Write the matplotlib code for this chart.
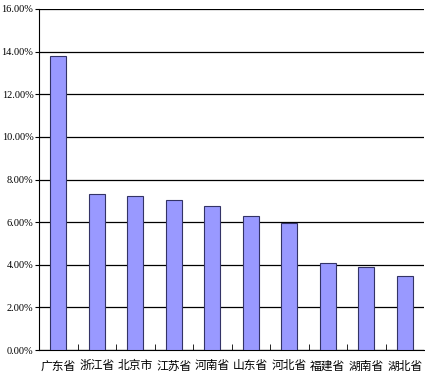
import matplotlib
matplotlib.use("Agg")
import matplotlib.pyplot as plt
from matplotlib.ticker import FuncFormatter, FixedLocator
import numpy as np

plt.rcParams['font.family'] = ['Noto Sans CJK SC', 'DejaVu Sans']

provinces = ['广东省', '浙江省', '北京市', '江苏省', '河南省',
             '山东省', '河北省', '福建省', '湖南省', '湖北省']
shares = [13.8, 7.32, 7.23, 7.03, 6.77, 6.28, 5.94, 4.09, 3.88, 3.49]

fig = plt.figure(figsize=(4.25, 3.75), dpi=100)
ax = fig.add_axes([39 / 425, 25 / 375, 385 / 425, 341 / 375])

x = np.arange(len(provinces))
ax.bar(x, shares, width=0.42, color='#9999ff', edgecolor='#333366',
       linewidth=0.8, zorder=3)

ax.set_xlim(-0.5, len(provinces) - 0.5)
ax.set_ylim(0, 16)
ax.set_yticks(np.arange(0, 17, 2))
ax.yaxis.set_major_formatter(FuncFormatter(lambda v, p: '%.2f%%' % v))
ax.grid(axis='y', color='black', linewidth=0.9, zorder=0)

ax.set_xticks(x)
ax.set_xticklabels(provinces, fontsize=8.5, va='baseline')
ax.tick_params(axis='x', length=0, pad=14)
ax.xaxis.set_minor_locator(FixedLocator(np.arange(0.5, len(provinces) - 0.5, 1)))
ax.tick_params(axis='x', which='minor', direction='in', length=4, color='black')
ax.tick_params(axis='y', direction='out', length=3, pad=1,
               labelsize=7.5, labelfontfamily='Liberation Serif')

for s in ['top', 'right']:
    ax.spines[s].set_visible(False)
ax.spines['left'].set_color('black')
ax.spines['bottom'].set_color('black')

fig.savefig('out.png', dpi=100)
